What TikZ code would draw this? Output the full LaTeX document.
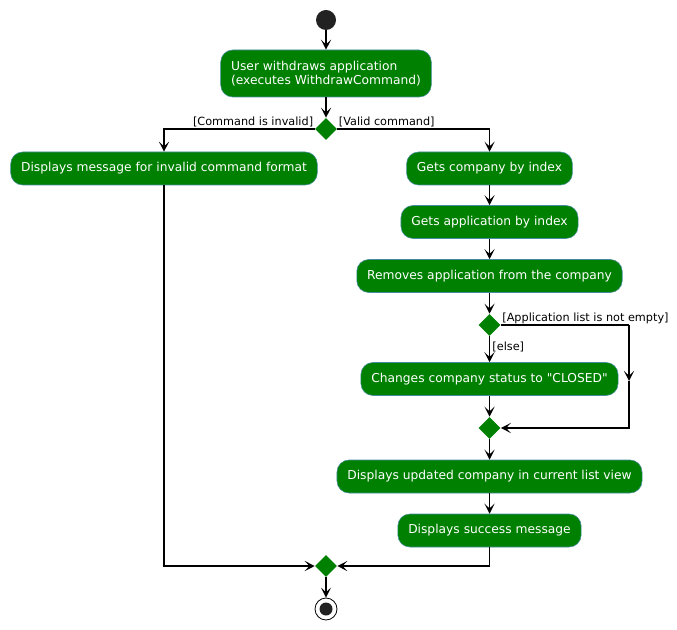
\documentclass[tikz,border=0pt]{standalone}
\usepackage{fontspec}
\setmainfont{DejaVu Sans}
\usetikzlibrary{arrows.meta}
\usetikzlibrary{shapes.geometric}
\definecolor{actgreen}{RGB}{0,128,0}
\definecolor{actborder}{RGB}{70,140,160}
\definecolor{dot}{RGB}{34,34,34}

\tikzset{
  act/.style={rectangle, rounded corners=9pt, fill=actgreen, draw=actborder, line width=0.4pt,
    text=white, font=\fontsize{9.2}{10.5}\selectfont, inner xsep=7.8pt, minimum height=24.75pt},
  branch/.style={diamond, fill=actgreen, inner sep=0pt, minimum size=16.5pt},
  flow/.style={line width=1.1pt, -{Stealth[length=7.5pt,width=7.5pt,inset=3.5pt]}},
  line/.style={line width=1.1pt},
  guard/.style={font=\fontsize{8.45}{9}\selectfont, inner sep=1pt}
}

\begin{document}
\begin{tikzpicture}[x=0.75pt,y=-0.75pt]
\useasboundingbox (0,0) rectangle (677,630);

\node[circle, fill=dot, minimum size=15pt, inner sep=0pt] (start) at (326,20) {};
\node[act, align=left, minimum height=35.25pt] (withdraw) at (326,73.5) {User withdraws application\\(executes WithdrawCommand)};
\node[branch] (valid) at (326,129) {};

\node[act] (invalid) at (164,168.5) {Displays message for invalid command format};
\node[act] (getco) at (489.5,168.5) {Gets company by index};
\node[act] (getapp) at (489.5,222) {Gets application by index};
\node[act] (remove) at (489.5,276) {Removes application from the company};
\node[branch] (empty) at (489.5,325) {};
\node[act] (closed) at (489.5,379) {Changes company status to \textquotedbl CLOSED\textquotedbl};
\node[branch] (joinempty) at (489.5,428) {};
\node[act] (update) at (489.5,476.5) {Displays updated company in current list view};
\node[act] (success) at (489.5,530.5) {Displays success message};
\node[branch] (merge) at (326,566) {};
\node[circle, draw=black, line width=0.6pt, fill=white, minimum size=16.5pt, inner sep=0pt] (stop) at (326,609) {};
\fill[dot] (stop) circle (6.5);

\coordinate (skiptop) at (629,325);
\coordinate (skipmid) at (629,381);
\coordinate (skipbot) at (629,428);

\draw[flow] (start) -- (withdraw);
\draw[flow] (withdraw) -- (valid);
\draw[flow] (valid.west) -| (invalid.north);
\draw[flow] (valid.east) -| (getco.north);
\node[guard, anchor=south east] at (valid.west) {[Command is invalid]};
\node[guard, anchor=south west] at (valid.east) {[Valid command]};

\draw[flow] (getco) -- (getapp);
\draw[flow] (getapp) -- (remove);
\draw[flow] (remove) -- (empty);
\draw[flow] (empty) -- (closed);
\node[guard, anchor=north west] at ([xshift=1pt,yshift=-3pt]empty.south) {[else]};
\draw[line] (empty.east) -- (skiptop);
\draw[flow] (skiptop) -- (skipmid);
\draw[flow] (skipmid) -- (skipbot) -- (joinempty.east);
\node[guard, anchor=south west] at (empty.east) {[Application list is not empty]};
\draw[flow] (closed) -- (joinempty);

\draw[flow] (joinempty) -- (update);
\draw[flow] (update) -- (success);
\draw[flow] (invalid.south) |- (merge.west);
\draw[flow] (success.south) |- (merge.east);
\draw[flow] (merge) -- (stop);
\end{tikzpicture}
\end{document}
